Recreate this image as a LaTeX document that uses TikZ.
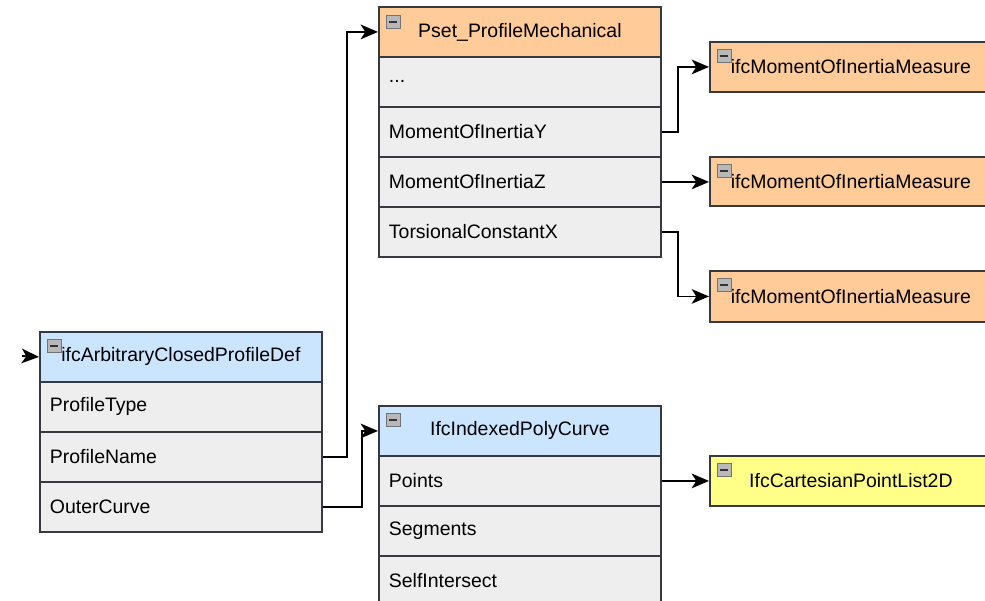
\documentclass[tikz,border=0pt]{standalone}
\usepackage{fontspec}
\setmainfont{Liberation Sans}
\usetikzlibrary{arrows.meta}
\definecolor{hblue}{HTML}{CCE5FF}
\definecolor{horange}{HTML}{FFCC99}
\definecolor{hyellow}{HTML}{FFFF88}
\definecolor{rowgray}{HTML}{EEEEEE}
\definecolor{edge}{HTML}{36393D}
\definecolor{icongray}{HTML}{B8B8B8}
\tikzset{
  base/.style={draw=edge, line width=1.4pt, rectangle, anchor=north west,
    minimum width=211.5pt, minimum height=37.5pt, inner ysep=0pt,
    font=\fontsize{14.6}{17}\selectfont},
  rowbox/.style={base, fill=rowgray, text width=196.5pt, inner xsep=7.5pt, align=left},
  headbox/.style={base, align=center},
  icon/.style={draw=edge!70, line width=0.6pt, fill=icongray, rectangle, anchor=north west,
    minimum width=10.5pt, minimum height=9.75pt, inner sep=0pt,
    path picture={\draw[line width=1.3pt, black!80] ([xshift=2.2pt]path picture bounding box.west) -- ([xshift=-2.2pt]path picture bounding box.east);}},
  conn/.style={draw=black, line width=1.4pt, -{Stealth[length=13pt,width=11pt,inset=3.5pt]}},
}
\begin{document}
\begin{tikzpicture}[x=0.75pt,y=-0.75pt]
\useasboundingbox (0,0) rectangle (985,600);
\clip (0,0) rectangle (985,600);
% left class
\node[rowbox] (ptype) at (39,381) {ProfileType};
\node[rowbox] (pname) at (39,431) {ProfileName};
\node[rowbox] (outer) at (39,481) {OuterCurve};
\node[headbox, fill=hblue] (acp) at (39,331) {ifcArbitraryClosedProfileDef};
\node[icon] (acpi) at (47,339) {};
% pset
\node[rowbox] (dots) at (378,56) {...};
\node[rowbox] (moy) at (378,106) {MomentOfInertiaY};
\node[rowbox] (moz) at (378,156) {MomentOfInertiaZ};
\node[rowbox] (tcx) at (378,206) {TorsionalConstantX};
\node[headbox, fill=horange] (pset) at (378,6) {Pset\_ProfileMechanical};
\node[icon] (pseti) at (386,15) {};
% poly curve
\node[rowbox] (pts) at (378,455) {Points};
\node[rowbox] (seg) at (378,505) {Segments};
\node[rowbox] (sint) at (378,555) {SelfIntersect};
\node[headbox, fill=hblue] (ipc) at (378,405) {IfcIndexedPolyCurve};
\node[icon] (ipci) at (386,413) {};
% measures
\node[headbox, fill=horange] (m1) at (709,41) {ifcMomentOfInertiaMeasure};
\node[icon] (m1i) at (717,49) {};
\node[headbox, fill=horange, minimum height=36.75pt] (m2) at (709,156) {ifcMomentOfInertiaMeasure};
\node[icon] (m2i) at (717,164) {};
\node[headbox, fill=horange, minimum height=38.25pt] (m3) at (709,270) {ifcMomentOfInertiaMeasure};
\node[icon] (m3i) at (717,278) {};
\node[headbox, fill=hyellow] (cpl) at (709,455) {IfcCartesianPointList2D};
\node[icon] (cpli) at (717,463) {};
% connectors
\coordinate (in) at (22,356);
\draw[conn] (in) -- (acp.west);
\draw[conn] (pname.east) -- ++(24,0) |- (pset.west);
\draw[conn] (outer.east) -- ++(39,0) |- (ipc.west);
\draw[conn] (moy.east) -- ++(16,0) |- (m1.west);
\draw[conn] (moz.east) -- (moz.east -| m2.west);
\draw[conn] (tcx.east) -- ++(16,0) |- (m3.west);
\draw[conn] (pts.east) -- (cpl.west);
\end{tikzpicture}
\end{document}
